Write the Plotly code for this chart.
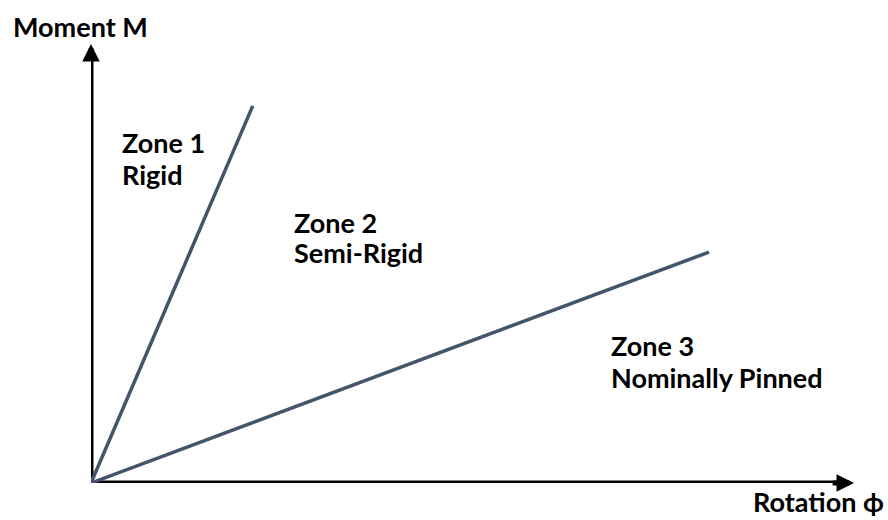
import plotly.graph_objects as go

# ---- data (conceptual moment-rotation diagram) ----
axis_max_x = 10.0          # rotation axis extent
axis_max_y = 10.0          # moment axis extent
rigid_line_x = [0, 2.12]   # boundary Zone 1 / Zone 2
rigid_line_y = [0, 8.59]
pinned_line_x = [0, 8.10]  # boundary Zone 2 / Zone 3
pinned_line_y = [0, 5.26]
x_label = "Rotation \u03d5"
y_label = "Moment M"
zone_labels = [("Zone 1", "Rigid"), ("Zone 2", "Semi-Rigid"), ("Zone 3", "Nominally Pinned")]

W, H = 888, 520
L, R, T, B = 91, 34, 44, 37
PW, PH = W - L - R, H - T - B


def px(x):
    return (x - L) / PW


def py(y):
    return (H - B - y) / PH


LINE_COLOR = "#44546A"
FONT = dict(family="Lato, 'Open Sans', sans-serif", size=27, color="#000000")

fig = go.Figure()
fig.add_trace(go.Scatter(x=rigid_line_x, y=rigid_line_y, mode="lines",
                         line=dict(color=LINE_COLOR, width=3.5), hoverinfo="skip"))
fig.add_trace(go.Scatter(x=pinned_line_x, y=pinned_line_y, mode="lines",
                         line=dict(color=LINE_COLOR, width=3.5), hoverinfo="skip"))

# axis lines (below the traces)
fig.add_shape(type="line", x0=0, y0=0, x1=axis_max_x * 0.99, y1=0, layer="below",
              line=dict(color="black", width=5))
fig.add_shape(type="line", x0=0, y0=0, x1=0, y1=axis_max_y * 0.99, layer="below",
              line=dict(color="black", width=5))

annotations = []
# arrow heads
annotations.append(dict(x=axis_max_x, y=0, ax=axis_max_x * 0.97, ay=0, xref="x", yref="y",
                        axref="x", ayref="y", showarrow=True, arrowhead=2, arrowwidth=5,
                        arrowsize=0.7, arrowcolor="black", text=""))
annotations.append(dict(x=0, y=axis_max_y, ax=0, ay=axis_max_y * 0.97, xref="x", yref="y",
                        axref="x", ayref="y", showarrow=True, arrowhead=2, arrowwidth=5,
                        arrowsize=0.7, arrowcolor="black", text=""))


def label(text, xpix, ypix, xanchor="left", yanchor="middle"):
    annotations.append(dict(x=px(xpix), y=py(ypix), xref="paper", yref="paper",
                            text="<b>%s</b>" % text, showarrow=False, xanchor=xanchor,
                            yanchor=yanchor, font=FONT, align="left"))


label(y_label, 11, 27)
label(x_label, 886, 520, xanchor="right", yanchor="bottom")
label(zone_labels[0][0], 120, 142)
label(zone_labels[0][1], 120, 174)
label(zone_labels[1][0], 292, 222)
label(zone_labels[1][1], 292, 252)
label(zone_labels[2][0], 609, 345)
label(zone_labels[2][1], 609, 377)

fig.update_layout(
    width=W, height=H,
    margin=dict(l=L, r=R, t=T, b=B),
    paper_bgcolor="white", plot_bgcolor="white",
    showlegend=False,
    annotations=annotations,
    xaxis=dict(range=[0, axis_max_x], visible=False, fixedrange=True),
    yaxis=dict(range=[0, axis_max_y], visible=False, fixedrange=True),
)

fig.write_html("out.html", config={"displayModeBar": False},
               post_script="document.body.style.margin='0';document.body.style.overflow='hidden';")
